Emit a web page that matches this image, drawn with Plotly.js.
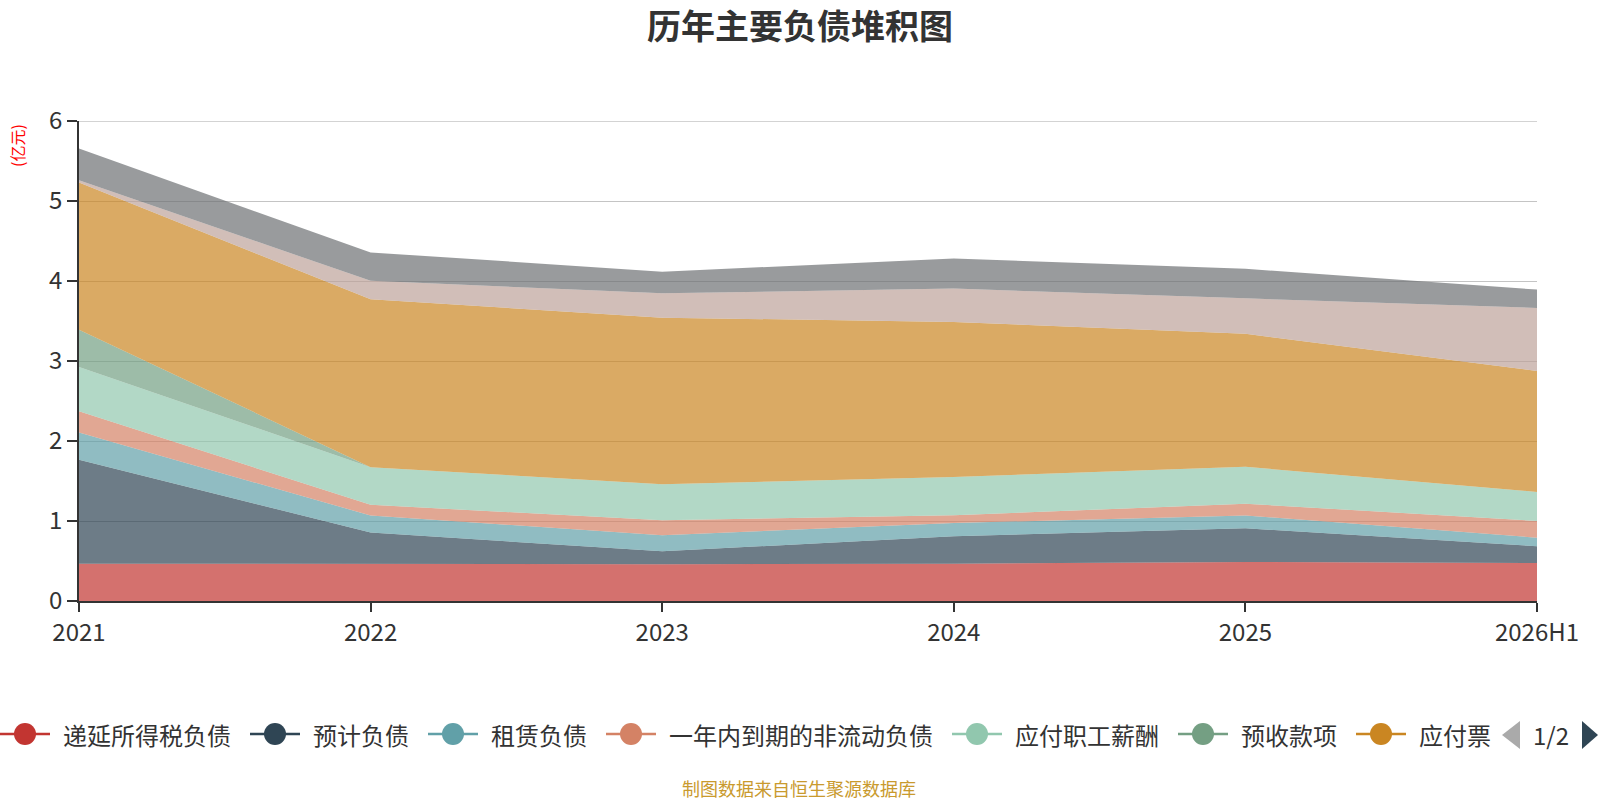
<!DOCTYPE html>
<html>
<head>
<meta charset="utf-8">
<script src="https://cdn.plot.ly/plotly-3.0.1.min.js"></script>
<style>
html,body{margin:0;padding:0;background:#fff;}
#chart{width:1600px;height:800px;}
</style>
</head>
<body>
<div id="chart"></div>
<script>
// ---------------- data ----------------
const years = ['2021', '2022', '2023', '2024', '2025', '2026H1'];

const seriesNames = [
  '递延所得税负债',
  '预计负债',
  '租赁负债',
  '一年内到期的非流动负债',
  '应付职工薪酬',
  '预收款项',
  '应付票据及应付账款',
  '合同负债',
  '其他应付款'
];

// legend (page 1) labels as shown
const legendLabels = ['递延所得税负债', '预计负债', '租赁负债', '一年内到期的非流动负债', '应付职工薪酬', '预收款项', '应付票'];

const yTicks = [0, 1, 2, 3, 4, 5, 6];

const deferredTax   = [0.467, 0.460, 0.460, 0.467, 0.488, 0.475];
const provisions    = [1.300, 0.395, 0.161, 0.342, 0.420, 0.209];
const leaseLiab     = [0.338, 0.214, 0.200, 0.166, 0.161, 0.108];
const currentNonCur = [0.266, 0.133, 0.188, 0.096, 0.147, 0.208];
const payroll       = [0.554, 0.471, 0.450, 0.479, 0.462, 0.363];
const advances      = [0.467, 0.000, 0.000, 0.000, 0.000, 0.000];
const payables      = [1.838, 2.098, 2.083, 1.938, 1.662, 1.512];
const contractLiab  = [0.029, 0.232, 0.304, 0.417, 0.443, 0.788];
const otherPayables = [0.396, 0.354, 0.271, 0.375, 0.370, 0.230];

const seriesValues = [deferredTax, provisions, leaseLiab, currentNonCur, payroll, advances, payables, contractLiab, otherPayables];

// ---------------- styles ----------------
const colors = ['#c23531', '#2f4554', '#61a0a8', '#d48265', '#91c7ae', '#749f83', '#ca8622', '#bda29a', '#6e7074'];
const fillAlpha = 0.7;
const FONT = '"Noto Sans CJK SC", "Noto Sans", sans-serif';
const GRID = '#c4c4c4';

function hexToRgba(hex, a) {
  const n = parseInt(hex.slice(1), 16);
  return 'rgba(' + ((n >> 16) & 255) + ',' + ((n >> 8) & 255) + ',' + (n & 255) + ',' + a + ')';
}

const traces = seriesValues.map((vals, i) => ({
  type: 'scatter',
  mode: 'lines',
  name: seriesNames[i],
  x: years,
  y: vals,
  stackgroup: 'one',
  line: {width: 0, color: colors[i]},
  fillcolor: hexToRgba(colors[i], fillAlpha),
  showlegend: false,
  hovertemplate: '%{x}<br>' + seriesNames[i] + ': %{y:.2f}<extra></extra>'
}));

// ---------------- layout geometry ----------------
const W = 1600, H = 800;
const mL = 79, mR = 63, mT = 121, mB = 199;
const plotW = W - mL - mR, plotH = H - mT - mB;
const px = x => (x - mL) / plotW;          // pixel -> paper x
const py = y => (H - mB - y) / plotH;      // pixel -> paper y

const shapes = [];
const annotations = [];

// top gridline (edge of range)
shapes.push({type: 'line', xref: 'paper', yref: 'y', x0: 0, x1: 1,
             y0: yTicks[yTicks.length - 1], y1: yTicks[yTicks.length - 1],
             layer: 'below', line: {color: GRID, width: 1.3}});

// legend (manual, echarts-like)
const legY = 734;
const legFont = 24;
let cx = 0;
legendLabels.forEach((lab, i) => {
  const c = colors[i];
  shapes.push({type: 'line', xref: 'paper', yref: 'paper', x0: px(cx), x1: px(cx + 50), y0: py(legY), y1: py(legY),
               line: {color: c, width: 2.5}});
  shapes.push({type: 'circle', xref: 'paper', yref: 'paper', x0: px(cx + 14), x1: px(cx + 36), y0: py(legY - 11), y1: py(legY + 11),
               fillcolor: c, line: {width: 0}});
  annotations.push({xref: 'paper', yref: 'paper', x: px(cx + 61), y: py(legY), xanchor: 'left', yanchor: 'middle',
                    text: lab, showarrow: false, font: {family: FONT, size: legFont, color: '#333'}});
  cx += 61 + lab.length * legFont + 21;
});

// pager
shapes.push({type: 'path', xref: 'paper', yref: 'paper',
  path: 'M ' + px(1502) + ',' + py(735) + ' L ' + px(1520) + ',' + py(721) + ' L ' + px(1520) + ',' + py(749) + ' Z',
  fillcolor: '#aaaaaa', line: {width: 0}});
shapes.push({type: 'path', xref: 'paper', yref: 'paper',
  path: 'M ' + px(1598) + ',' + py(735) + ' L ' + px(1582) + ',' + py(721) + ' L ' + px(1582) + ',' + py(749) + ' Z',
  fillcolor: '#2f4554', line: {width: 0}});
annotations.push({xref: 'paper', yref: 'paper', x: px(1551), y: py(734), xanchor: 'center', yanchor: 'middle',
                  text: '1/2', showarrow: false, font: {family: FONT, size: 24, color: '#333'}});

// y axis unit
annotations.push({xref: 'paper', yref: 'paper', x: px(17), y: py(146), xanchor: 'center', yanchor: 'middle',
                  text: '(亿元)', textangle: -90, showarrow: false, font: {family: FONT, size: 16, color: '#ff0000'}});

// footer
annotations.push({xref: 'paper', yref: 'paper', x: px(799), y: py(788), xanchor: 'center', yanchor: 'middle',
                  text: '制图数据来自恒生聚源数据库', showarrow: false, font: {family: FONT, size: 18, color: '#c99a2e'}});

const layout = {
  width: W, height: H,
  margin: {l: mL, r: mR, t: mT, b: mB, pad: 0},
  paper_bgcolor: '#ffffff',
  plot_bgcolor: '#ffffff',
  showlegend: false,
  title: {
    text: '<b>历年主要负债堆积图</b>',
    x: 0.5, xref: 'container', xanchor: 'center',
    y: 1 - 27 / H, yref: 'container', yanchor: 'middle',
    font: {family: FONT, size: 34, color: '#333'}
  },
  xaxis: {
    type: 'category',
    categoryorder: 'array', categoryarray: years,
    range: [0, years.length - 1],
    showgrid: false, zeroline: false,
    showline: true, linecolor: '#333', linewidth: 2,
    ticks: 'outside', ticklen: 9, tickwidth: 1.5, tickcolor: '#333',
    tickfont: {family: FONT, size: 24, color: '#333'},
    fixedrange: true
  },
  yaxis: {
    range: [0, 6],
    tickvals: yTicks,
    showgrid: true, gridcolor: GRID, gridwidth: 1.3,
    zeroline: false,
    showline: true, linecolor: '#333', linewidth: 1.5,
    ticks: 'outside', ticklen: 10, tickwidth: 1.5, tickcolor: '#333',
    tickfont: {family: FONT, size: 24, color: '#333'},
    fixedrange: true
  },
  shapes: shapes,
  annotations: annotations
};

Plotly.newPlot('chart', traces, layout, {displayModeBar: false, responsive: false});
</script>
</body>
</html>
